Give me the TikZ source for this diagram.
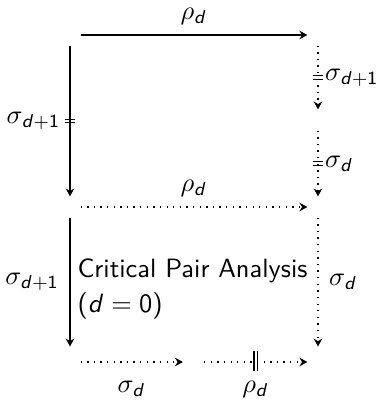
\documentclass[tikz,border=0pt]{standalone}
\renewcommand{\familydefault}{\sfdefault}
\DeclareSymbolFont{operators}{OT1}{cmss}{m}{n}
\DeclareSymbolFont{sfletters}{OT1}{cmss}{m}{sl}
\DeclareMathSymbol{d}{\mathalpha}{sfletters}{`d}
\usetikzlibrary{arrows.meta}
\tikzset{
  cpa obj/.style={inner sep=0pt, minimum width=7.6pt, minimum height=7.6pt},
  cpa low/.style={cpa obj, minimum height=11.3pt},
  cpa arrow/.style={draw, line width=0.5pt, -{Stealth[length=3pt,width=3.2pt,inset=1pt]}},
  cpa join/.style={cpa arrow, dotted},
  cpa mark/.style={draw, line width=0.5pt},
  cpa label/.style={inner sep=0pt},
}

\begin{document}
\begin{tikzpicture}[x=0.378pt,y=0.378pt]
  \useasboundingbox (0,0) rectangle (378,400);
  % objects of the square
  \node[cpa obj] (tl) at (70,365) {};
  \node[cpa obj] (tr) at (318,365) {};
  \node[cpa obj] (rm) at (318,280) {};
  \node[cpa obj] (ml) at (70,193) {};
  \node[cpa obj] (mr) at (318,193) {};
  \node[cpa low] (bl) at (70,38) {};
  \node[cpa low] (bc) at (193.5,38) {};
  \node[cpa low] (br) at (318,38) {};

  % upper square
  \draw[cpa arrow] (tl) -- node[cpa label, above=3.5pt] (rho1) {$\rho_d$} (tr);
  \draw[cpa arrow] (tl) -- coordinate (eq1) (ml);
  \draw[cpa mark] ([shift={(-5,1.8)}]eq1) -- ++(10,0) ([shift={(-5,-1.8)}]eq1) -- ++(10,0);
  \node[cpa label, left=3.5pt] (sig1) at (eq1) {$\sigma_{d+1}$};
  \draw[cpa join] (tr) -- coordinate (eq2) (rm);
  \draw[cpa mark] ([shift={(-5,1.8)}]eq2) -- ++(10,0) ([shift={(-5,-1.8)}]eq2) -- ++(10,0);
  \node[cpa label, right=2.5pt] (sig2) at (eq2) {$\sigma_{d+1}$};
  \draw[cpa join] (rm) -- coordinate (eq3) (mr);
  \draw[cpa mark] ([shift={(-5,1.8)}]eq3) -- ++(10,0) ([shift={(-5,-1.8)}]eq3) -- ++(10,0);
  \node[cpa label, right=2.5pt] (sig3) at (eq3) {$\sigma_d$};
  \draw[cpa join] (ml) -- node[cpa label, above=3.5pt] (rho2) {$\rho_d$} (mr);

  % lower square
  \draw[cpa arrow] (ml) -- node[cpa label, left=4pt] (sig4) {$\sigma_{d+1}$} (bl);
  \draw[cpa join] (mr) -- node[cpa label, right=4pt] (sig5) {$\sigma_d$} (br);
  \node[anchor=west, align=left, inner sep=0pt] (cpa) at (77,111)
    {Critical Pair Analysis\\[1.5pt]($d = 0$)};
  \draw[cpa join] (bl) -- node[cpa label, below=7pt] (sig6) {$\sigma_d$} (bc);
  \draw[cpa join] (bc) -- coordinate (eq4) node[cpa label, below=7pt] (rho3) {$\rho_d$} (br);
  \draw[cpa mark] ([shift={(-1.8,-9)}]eq4) -- ++(0,20) ([shift={(1.8,-9)}]eq4) -- ++(0,20);
\end{tikzpicture}
\end{document}
